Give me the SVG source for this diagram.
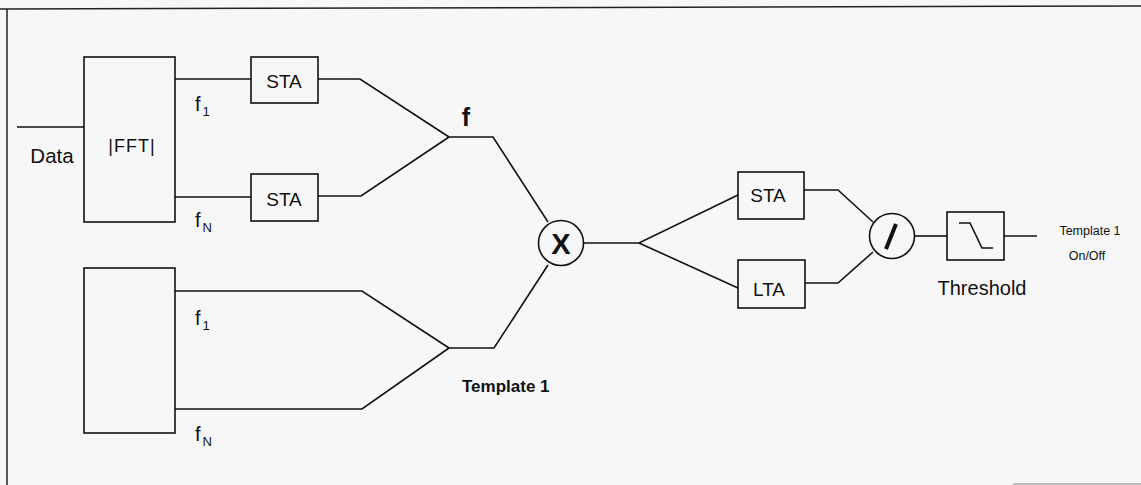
<svg xmlns="http://www.w3.org/2000/svg" width="1141" height="485" viewBox="0 0 1141 485">
<style>
.ln{fill:none;stroke:#111;stroke-width:1.6}
.bx{fill:none;stroke:#111;stroke-width:1.6}
.t{font-family:"Liberation Sans",Arial,sans-serif;fill:#111}
.lab{font-size:19px}
.sub{font-size:13px}
</style>
<rect width="1141" height="485" fill="#f7f7f7"/>
<g id="frame">
<line x1="0" y1="9" x2="1141" y2="6" stroke="#222" stroke-width="1.5"/>
<line x1="7" y1="9" x2="7" y2="485" stroke="#222" stroke-width="1.5"/>
<line x1="1013" y1="484" x2="1141" y2="484" stroke="#aaa" stroke-width="1.5"/>
</g>
<g id="connectors">
<polyline class="ln" points="17,127 84,127"/>
<polyline class="ln" points="175,79 251,79"/>
<polyline class="ln" points="175,197 251,197"/>
<polyline class="ln" points="318,79 360,79 449,137"/>
<polyline class="ln" points="318,196 361,196 449,137"/>
<polyline class="ln" points="449,137 493,137 548,222"/>
<polyline class="ln" points="175,291 362,291 449,348"/>
<polyline class="ln" points="175,409 362,409 449,348"/>
<polyline class="ln" points="449,348 494,348 548,265"/>
<polyline class="ln" points="584,243 639,243 738,195"/>
<polyline class="ln" points="639,243 738,288"/>
<polyline class="ln" points="804,190 838,190 873,222"/>
<polyline class="ln" points="805,283 838,283 873,252"/>
<polyline class="ln" points="915,236 947,236"/>
<polyline class="ln" points="1004,236 1037,236"/>
</g>
<g id="fft1">
<rect class="bx" x="84" y="57" width="91" height="165"/>
<text class="t" x="132" y="152" font-size="18" text-anchor="middle" letter-spacing="1">|FFT|</text>
</g>
<g id="data-label">
<text class="t" x="52" y="163" text-anchor="middle" font-size="20.5">Data</text>
</g>
<g id="sta1">
<rect class="bx" x="251" y="57" width="67" height="46"/>
<text class="t lab" x="284" y="88" text-anchor="middle">STA</text>
</g>
<g id="sta2">
<rect class="bx" x="251" y="174" width="67" height="47"/>
<text class="t lab" x="284" y="206" text-anchor="middle">STA</text>
</g>
<g id="labels-top">
<text class="t" x="195" y="111" font-size="20">f<tspan class="sub" dx="2" dy="5">1</tspan></text>
<text class="t" x="195" y="227" font-size="20">f<tspan class="sub" dx="2" dy="5">N</tspan></text>
<text class="t" x="466" y="126" font-size="25" font-weight="bold" text-anchor="middle">f</text>
</g>
<g id="template">
<rect class="bx" x="84" y="268" width="91" height="165"/>
<text class="t" x="195" y="325" font-size="20">f<tspan class="sub" dx="2" dy="5">1</tspan></text>
<text class="t" x="195" y="441" font-size="20">f<tspan class="sub" dx="2" dy="5">N</tspan></text>
<text class="t" x="462" y="392" font-size="17" font-weight="bold">Template 1</text>
</g>
<g id="multiply">
<circle class="bx" cx="561" cy="243" r="22.5"/>
<text class="t" x="561" y="254" font-size="29" font-weight="bold" text-anchor="middle">X</text>
</g>
<g id="sta3">
<rect class="bx" x="738" y="172" width="66" height="47"/>
<text class="t lab" x="768" y="202" text-anchor="middle">STA</text>
</g>
<g id="lta">
<rect class="bx" x="738" y="260" width="67" height="48"/>
<text class="t lab" x="769" y="296" text-anchor="middle">LTA</text>
</g>
<g id="divide">
<circle class="bx" cx="892" cy="236" r="22.5"/>
<line x1="886" y1="249" x2="896" y2="224" stroke="#111" stroke-width="4"/>
</g>
<g id="threshold">
<rect class="bx" x="947" y="212" width="57" height="48"/>
<polyline class="ln" points="959,223 970,223 982,248 993,248"/>
<text class="t" x="982" y="295" text-anchor="middle" font-size="20">Threshold</text>
</g>
<g id="output">
<text class="t" x="1090" y="235" font-size="12.5" text-anchor="middle">Template  1</text>
<text class="t" x="1087" y="260" font-size="12.5" text-anchor="middle">On/Off</text>
</g>
</svg>
